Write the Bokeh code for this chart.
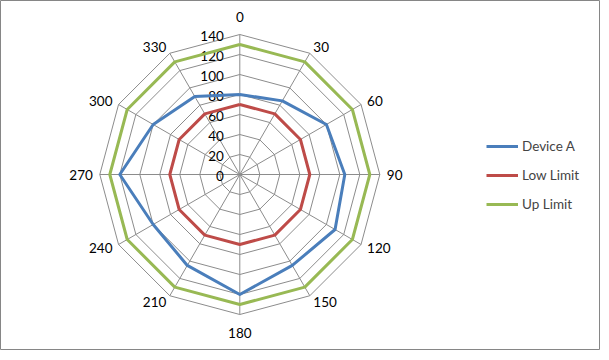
import numpy as np
from bokeh.plotting import figure
from bokeh.models import Legend, LegendItem, Range1d
from bokeh.core.properties import value
from bokeh.embed import file_html
from bokeh.resources import INLINE

# ---- data ----
angles = [0, 30, 60, 90, 120, 150, 180, 210, 240, 270, 300, 330]
angle_labels = ["0", "30", "60", "90", "120", "150", "180", "210", "240", "270", "300", "330"]
device_a = [80, 85, 100, 105, 110, 105, 120, 105, 100, 120, 100, 90]
low_limit = [70, 70, 70, 70, 70, 70, 70, 70, 70, 70, 70, 70]
up_limit = [130, 130, 130, 130, 130, 130, 130, 130, 130, 130, 130, 130]
radial_ticks = [0, 20, 40, 60, 80, 100, 120, 140]
radial_max = 140

series_names = ["Device A", "Low Limit", "Up Limit"]
series_colors = ["#4A7EBB", "#BE4B48", "#98B954"]

FONT = "Lato"
FSIZE = "13.5px"
GRID = "#8c8c8c"

W, H = 600, 350
p = figure(width=W, height=H, output_backend="svg", toolbar_location=None,
           x_range=Range1d(-239.3, -239.3 + W), y_range=Range1d(174 - H, 174),
           min_border=0, match_aspect=False)
p.axis.visible = False
p.grid.visible = False
p.background_fill_color = "white"
p.border_fill_color = "white"
p.outline_line_color = "#868686"
p.outline_line_width = 1

th = np.radians(np.array(angles, dtype=float))
sx, cy = np.sin(th), np.cos(th)

def poly(vals):
    v = np.asarray(vals, dtype=float)
    x = list(v * sx) + [v[0] * sx[0]]
    y = list(v * cy) + [v[0] * cy[0]]
    return x, y

# grid polygons
for r in radial_ticks[1:]:
    gx, gy = poly([r] * len(angles))
    p.line(gx, gy, line_color=GRID, line_width=1)
# spokes
p.multi_line([[0, radial_max * s] for s in sx], [[0, radial_max * c] for c in cy],
             line_color=GRID, line_width=1)

# radial tick labels
p.text(x=[0] * len(radial_ticks), y=radial_ticks, text=[str(t) for t in radial_ticks],
       text_align="right", text_baseline="middle", x_offset=-16, y_offset=1,
       text_font=value(FONT), text_font_size=FSIZE, text_color="black")

# category labels
lx, ly, la = [], [], []
for s, c in zip(sx, cy):
    if abs(s) < 0.01:
        r = 158
        la.append("center")
    else:
        r = 147
        la.append("left" if s > 0 else "right")
    lx.append(r * s)
    ly.append(r * c)
p.text(x=lx, y=ly, text=angle_labels, text_align=la, text_baseline="middle",
       text_font=value(FONT), text_font_size=FSIZE, text_color="black")

# series
renderers = []
for vals, col in zip([device_a, low_limit, up_limit], series_colors):
    x, y = poly(vals)
    renderers.append(p.line(x, y, line_color=col, line_width=3, line_join="round"))

legend = Legend(items=[LegendItem(label=n, renderers=[r]) for n, r in zip(series_names, renderers)],
                location=(486, 136), orientation="vertical",
                glyph_width=32, glyph_height=20, label_height=20, spacing=9,
                label_standoff=4, padding=0, margin=0,
                label_text_font=FONT, label_text_font_size=FSIZE,
                border_line_color=None, background_fill_alpha=0)
p.add_layout(legend, "center")

open("out.html", "w").write(file_html(p, INLINE))
